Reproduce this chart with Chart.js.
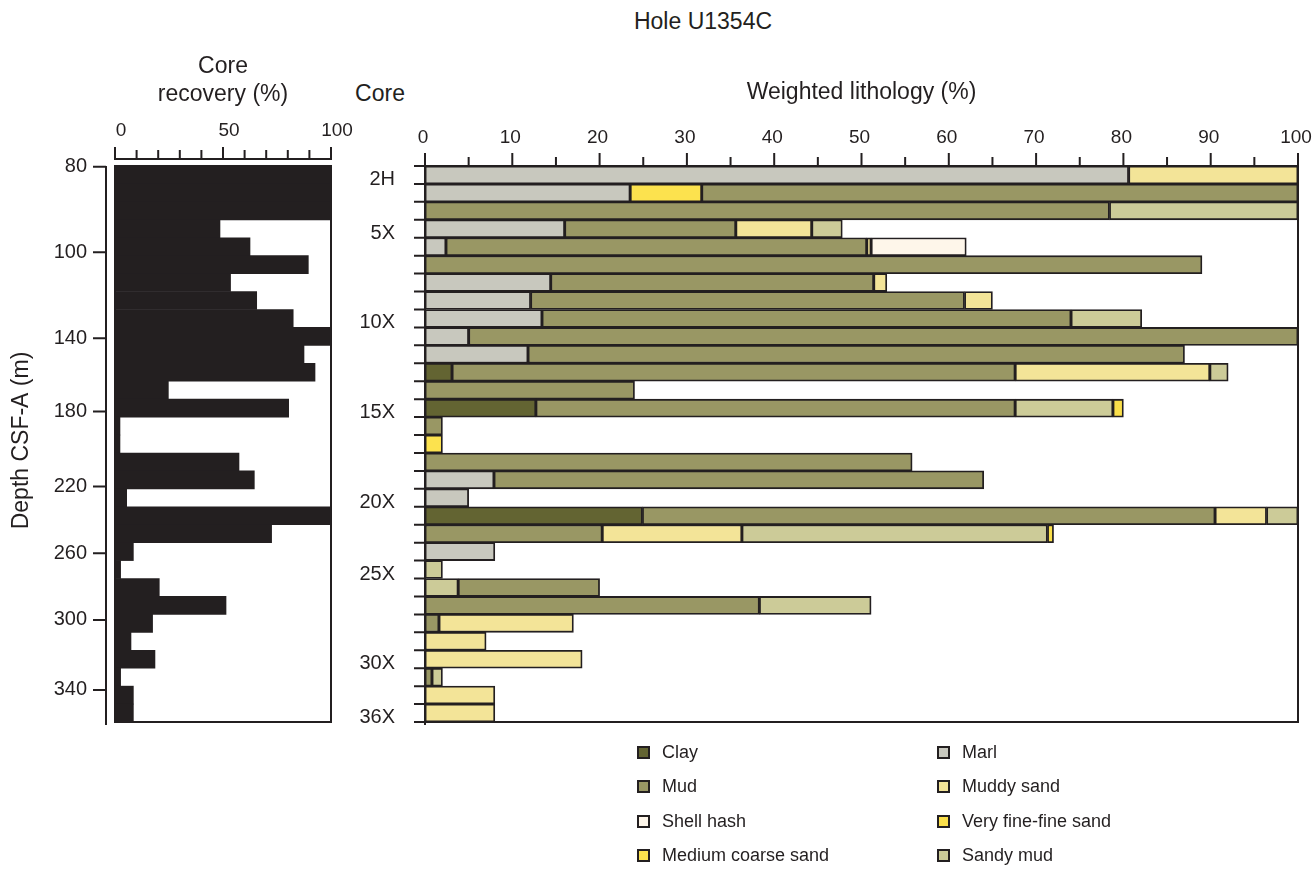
<!DOCTYPE html>
<html>
<head>
<meta charset="utf-8">
<title>Hole U1354C</title>
<script src="https://cdn.jsdelivr.net/npm/chart.js@4.4.1/dist/chart.umd.min.js"></script>
<style>
  html, body { margin: 0; padding: 0; background: #fff; }
  body {
    width: 1312px; height: 870px; position: relative; overflow: hidden;
    font-family: "Liberation Sans", Arial, sans-serif; color: #231f20;
  }
  canvas { position: absolute; top: 0; }
  #recovery { left: 0; }
  #lithology { left: 340px; }
  .head { position: absolute; font-size: 23px; line-height: 1; white-space: nowrap; transform: translate(-50%, -50%); }
  #legend {
    position: absolute; left: 637px; top: 735px;
    display: grid; grid-auto-flow: column;
    grid-template-columns: 300px 300px; grid-template-rows: repeat(4, 34.5px);
    font-size: 18px;
  }
  .item { display: flex; align-items: center; }
  .swatch { width: 13px; height: 13px; box-sizing: border-box; border: 2px solid #231f20; margin-right: 12px; }
</style>
</head>
<body>
<div class="head" style="left:703px;top:21px;">Hole U1354C</div>
<div class="head" style="left:380px;top:93px;">Core</div>
<canvas id="recovery" width="360" height="870"></canvas>
<canvas id="lithology" width="972" height="870"></canvas>
<div id="legend"></div>

<script>
// Hole U1354C — core recovery and weighted lithology, one row per core.

const INK = "#231f20";
const rowCount = 31;

// core labels on the lithology panel (row index, top = 0)
const coreLabels    = ["2H", "5X", "10X", "15X", "20X", "25X", "30X", "36X"];
const coreLabelRows = [0, 3, 8, 13, 18, 22, 27, 30];

// depth axis of the recovery panel, expressed in core rows
const depthLabels   = [80, 100, 140, 180, 220, 260, 300, 340];
const depthTickRows = [0.04, 4.81, 9.61, 13.69, 17.87, 21.59, 25.31, 29.21];

const recoveryTicks = [0, 10, 20, 30, 40, 50, 60, 70, 80, 90, 100];
const recoveryLabels = [0, 50, 100];
const lithTicks = [0, 5, 10, 15, 20, 25, 30, 35, 40, 45, 50, 55, 60, 65, 70, 75, 80, 85, 90, 95, 100];

// core recovery (%) per row
const recovery = [100, 100, 100, 48.6, 62.5, 89.5, 53.5, 65.6, 82.5, 100,
                  87.5, 92.6, 24.7, 80.4, 2.3, 2.3, 57.4, 64.5, 5.4, 100,
                  72.5, 8.5, 2.6, 20.5, 51.4, 17.4, 7.4, 18.5, 2.6, 8.5, 8.5];

// weighted lithology (%) per row, null = absent
const clay = [null, null, null, null, null, null, null, null, null, null,
              null, 3.1, null, 12.7, null, null, null, null, null, 24.9,
              null, null, null, null, null, null, null, null, null, null, null];
const mud = [null, 68.3, 78.4, 19.6, 48.2, 89.0, 37.0, 49.7, 60.6, 95.0,
             75.2, 64.5, 24.0, 54.9, 2.0, null, 55.8, 56.1, null, 65.6,
             20.3, null, null, 16.2, 38.3, 1.6, null, null, 0.8, null, null];
const shellHash = [null, null, null, null, 10.9, null, null, null, null, null,
                   null, null, null, null, null, null, null, null, null, null,
                   null, null, null, null, null, null, null, null, null, null, null];
const mediumCoarseSand = [null, 8.2, null, null, null, null, null, null, null, null,
                          null, null, null, null, null, 2.0, null, null, null, null,
                          null, null, null, null, null, null, null, null, null, null, null];
const marl = [80.6, 23.5, null, 16.0, 2.4, null, 14.4, 12.1, 13.4, 5.0,
              11.8, null, null, null, null, null, null, 7.9, 5.0, null,
              null, 8.0, null, null, null, null, null, null, null, null, null];
const muddySand = [19.4, null, null, 8.7, 0.5, null, 1.5, 3.2, null, null,
                   null, 22.3, null, null, null, null, null, null, null, 5.9,
                   16.0, null, null, null, null, 15.4, 7.0, 18.0, null, 8.0, 8.0];
const veryFineSand = [null, null, null, null, null, null, null, null, null, null,
                      null, null, null, 1.2, null, null, null, null, null, null,
                      0.7, null, null, null, null, null, null, null, null, null, null];
const sandyMud = [null, null, 21.6, 3.5, null, null, null, null, 8.1, null,
                  null, 2.1, null, 11.2, null, null, null, null, null, 3.6,
                  35.0, null, 2.0, 3.8, 12.8, null, null, null, 1.2, null, null];

// legend order (two columns, top to bottom)
const lithologies = [
  { name: "Clay",                values: clay,             color: "#636432" },
  { name: "Mud",                 values: mud,              color: "#999764" },
  { name: "Shell hash",          values: shellHash,        color: "#fef6ea" },
  { name: "Medium coarse sand",  values: mediumCoarseSand, color: "#fce24e" },
  { name: "Marl",                values: marl,             color: "#c8c8be" },
  { name: "Muddy sand",          values: muddySand,        color: "#f3e498" },
  { name: "Very fine-fine sand", values: veryFineSand,     color: "#fadf4a" },
  { name: "Sandy mud",           values: sandyMud,         color: "#cccb98" }
];

// left-to-right order of segments inside a row
const stackOrder = ["Clay", "Marl", "Medium coarse sand", "Mud", "Muddy sand",
                    "Shell hash", "Sandy mud", "Very fine-fine sand"];
const stackOrderOverride = { 23: ["Sandy mud", "Mud"] };

Chart.defaults.font.family = '"Liberation Sans", Arial, sans-serif';
Chart.defaults.color = INK;

// ── Build floating segments per lithology ─────────────────────────────────
const byName = {};
lithologies.forEach(l => { byName[l.name] = l; l.segments = []; });
for (let r = 0; r < rowCount; r++) {
  let start = 0;
  (stackOrderOverride[r] || stackOrder).forEach(name => {
    const v = byName[name].values[r];
    if (v == null) return;
    byName[name].segments.push({ x: [start, start + v], y: r + 0.5 });
    start += v;
  });
}

// fixed scale sizes; drop the label overhang so the plot area stays put
function fixSize(size) {
  return s => {
    if (s.isHorizontal()) s.height = size; else s.width = size;
    s.paddingTop = s.paddingBottom = s.paddingLeft = s.paddingRight = 0;
  };
}

// ── Frames and tick marks ─────────────────────────────────────────────────
const recoveryFrame = {
  id: "recoveryFrame",
  afterDatasetsDraw(chart) {
    const { ctx, chartArea, scales: { x, y } } = chart;
    const left = x.getPixelForValue(0), right = x.getPixelForValue(100);
    const top = y.getPixelForValue(0), bottom = y.getPixelForValue(rowCount);
    const axisX = left - 9;
    ctx.save();
    ctx.strokeStyle = INK;
    ctx.lineWidth = 2;
    ctx.strokeRect(left, top, right - left, bottom - top);
    ctx.beginPath();
    ctx.moveTo(left, chartArea.top);
    ctx.lineTo(right, chartArea.top);
    recoveryTicks.forEach(v => {
      const px = x.getPixelForValue(v);
      ctx.moveTo(px, chartArea.top + 1);
      ctx.lineTo(px, chartArea.top - (v % 50 === 0 ? 12 : 9));
    });
    ctx.moveTo(axisX, top);
    ctx.lineTo(axisX, bottom + 3);
    depthTickRows.forEach(r => {
      const py = y.getPixelForValue(r);
      ctx.moveTo(axisX - 13, py);
      ctx.lineTo(axisX, py);
    });
    ctx.stroke();
    ctx.restore();
  }
};

const lithFrame = {
  id: "lithFrame",
  afterDatasetsDraw(chart) {
    const { ctx, scales: { x, y } } = chart;
    const left = x.getPixelForValue(0), right = x.getPixelForValue(100);
    const top = y.getPixelForValue(0), bottom = y.getPixelForValue(rowCount);
    ctx.save();
    ctx.strokeStyle = INK;
    ctx.lineWidth = 2;
    ctx.beginPath();
    ctx.moveTo(left, top);
    ctx.lineTo(right, top);
    ctx.lineTo(right, bottom);
    ctx.lineTo(left, bottom);
    ctx.moveTo(left, top);
    ctx.lineTo(left, bottom + 3);
    lithTicks.forEach(v => {
      const px = x.getPixelForValue(v);
      ctx.moveTo(px, top);
      ctx.lineTo(px, top - (v % 10 === 0 ? 13 : 9));
    });
    for (let r = 0; r <= rowCount; r++) {
      const py = y.getPixelForValue(r);
      ctx.moveTo(left - 11, py);
      ctx.lineTo(left, py);
    }
    ctx.stroke();
    ctx.restore();
  }
};

const tickFont = { size: 19 };
const coreFont = { size: 20 };
const titleFont = { size: 23 };
const noGrid = { display: false, drawTicks: false };

// ── Core recovery panel ───────────────────────────────────────────────────
new Chart(document.getElementById("recovery"), {
  type: "bar",
  data: {
    datasets: [{
      label: "Core recovery",
      data: recovery.map((v, i) => ({ x: v, y: i + 0.5 })),
      backgroundColor: INK,
      borderWidth: 0,
      barPercentage: 1,
      categoryPercentage: 1
    }]
  },
  options: {
    indexAxis: "y",
    responsive: false,
    animation: false,
    layout: { padding: { top: 0, left: 0, right: 29, bottom: 148 } },
    plugins: { legend: { display: false }, tooltip: { enabled: false } },
    scales: {
      x: {
        type: "linear", position: "top", min: 0, max: 100, bounds: "data",
        grid: noGrid, border: { display: false },
        ticks: { font: tickFont, padding: 17, labelOffset: 6, autoSkip: false },
        afterBuildTicks: s => { s.ticks = recoveryLabels.map(v => ({ value: v })); },
        afterFit: fixSize(159),
        title: { display: true, text: ["Core", "recovery (%)"], font: titleFont, padding: { top: 53 } }
      },
      y: {
        type: "linear", reverse: true, min: -0.39, max: rowCount, bounds: "data", offset: false,
        grid: noGrid, border: { display: false },
        ticks: { font: coreFont, padding: 28, autoSkip: false, callback: (v, i) => depthLabels[i] },
        afterBuildTicks: s => { s.ticks = depthTickRows.map(v => ({ value: v })); },
        afterFit: fixSize(115),
        title: { display: true, text: "Depth CSF-A (m)", font: titleFont, padding: { top: 8 } }
      }
    }
  },
  plugins: [recoveryFrame]
});

// ── Weighted lithology panel ──────────────────────────────────────────────
new Chart(document.getElementById("lithology"), {
  type: "bar",
  data: {
    datasets: lithologies.map(l => ({
      label: l.name,
      data: l.segments,
      backgroundColor: l.color,
      borderColor: INK,
      borderWidth: 1.8,
      borderSkipped: false,
      grouped: false,
      barPercentage: 1,
      categoryPercentage: 1
    }))
  },
  options: {
    indexAxis: "y",
    responsive: false,
    animation: false,
    layout: { padding: { top: 0, left: 0, right: 14, bottom: 148 } },
    plugins: { legend: { display: false }, tooltip: { enabled: false } },
    scales: {
      x: {
        type: "linear", position: "top", min: 0, max: 100, bounds: "data", stacked: false,
        grid: noGrid, border: { display: false },
        ticks: { font: tickFont, padding: 17, labelOffset: -2, stepSize: 10, autoSkip: false },
        afterFit: fixSize(166),
        title: { display: true, text: "Weighted lithology (%)", font: titleFont, padding: { top: 79 } }
      },
      y: {
        type: "linear", reverse: true, min: 0, max: rowCount, bounds: "data", offset: false,
        grid: noGrid, border: { display: false },
        ticks: { font: coreFont, padding: 30, autoSkip: false, callback: (v, i) => coreLabels[i] },
        afterBuildTicks: s => { s.ticks = coreLabelRows.map(r => ({ value: r + 0.75 })); },
        afterFit: fixSize(85)
      }
    }
  },
  plugins: [lithFrame]
});

// ── Legend ────────────────────────────────────────────────────────────────
const legendEl = document.getElementById("legend");
lithologies.forEach(l => {
  const item = document.createElement("div");
  item.className = "item";
  item.innerHTML = `<span class="swatch" style="background:${l.color}"></span><span>${l.name}</span>`;
  legendEl.appendChild(item);
});
</script>
</body>
</html>
